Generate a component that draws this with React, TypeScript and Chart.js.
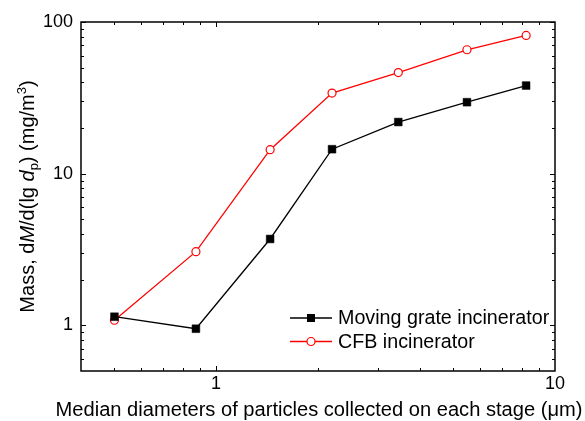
import React, { useEffect, useRef } from "react";
import { Chart, registerables } from "chart.js";

Chart.register(...registerables);

const FONT = '"Liberation Sans", Arial, Helvetica, sans-serif';

// Data
const diameters = [0.502, 0.873, 1.445, 2.2, 3.45, 5.5, 8.22];
const movingGrate = [1.14, 0.95, 3.71, 14.5, 21.9, 29.6, 38.1];
const cfb = [1.08, 3.06, 14.4, 34.0, 46.4, 65.6, 81.6];
const seriesNames = ["Moving grate incinerator", "CFB incinerator"];
const xTitle = "Median diameters of particles collected on each stage (\u03bcm)";

// Axis ticks
const xMajor = [1, 10];
const xMinor = [0.5, 0.6, 0.7, 0.8, 0.9, 2, 3, 4, 5, 6, 7, 8, 9];
const yMajor = [1, 10, 100];
const yMinor = [0.6, 0.7, 0.8, 0.9, 2, 3, 4, 5, 6, 7, 8, 9, 20, 30, 40, 50, 60, 70, 80, 90];

const isMajor = (v: number, list: number[]) => list.some((m) => Math.abs(v - m) / m < 1e-6);

const framePlugin = {
  id: "frame",
  afterDraw(chart: any) {
    const { ctx, chartArea, scales } = chart;
    const { left, right, top, bottom } = chartArea;
    ctx.save();
    ctx.strokeStyle = "#000";
    ctx.lineWidth = 1;
    const tick = (vals: number[], len: number) => {
      vals.forEach((v) => {
        const px = Math.round(scales.x.getPixelForValue(v)) + 0.5;
        if (v > 0.45 && v < 10) {
          ctx.beginPath();
          ctx.moveTo(px, bottom);
          ctx.lineTo(px, bottom - len);
          ctx.moveTo(px, top);
          ctx.lineTo(px, top + len);
          ctx.stroke();
        }
      });
    };
    const ytick = (vals: number[], len: number) => {
      vals.forEach((v) => {
        const py = Math.round(scales.y.getPixelForValue(v)) + 0.5;
        ctx.beginPath();
        ctx.moveTo(left, py);
        ctx.lineTo(left + len, py);
        ctx.moveTo(right, py);
        ctx.lineTo(right - len, py);
        ctx.stroke();
      });
    };
    tick(xMajor, 5);
    tick(xMinor, 3);
    ytick(yMajor, 5);
    ytick(yMinor, 3);
    ctx.lineWidth = 1.5;
    ctx.strokeRect(left, top, right - left, bottom - top);
    ctx.restore();
  },
};

const titlesPlugin = {
  id: "titles",
  afterDraw(chart: any) {
    const { ctx, chartArea } = chart;
    // x title
    ctx.save();
    ctx.fillStyle = "#000";
    ctx.textBaseline = "alphabetic";
    ctx.textAlign = "center";
    let fs = 20;
    ctx.font = `${fs}px ${FONT}`;
    const w = ctx.measureText(xTitle).width;
    fs = Math.max(16, Math.min(24, (fs * 527) / w));
    ctx.font = `${fs}px ${FONT}`;
    ctx.fillText(xTitle, 319, 416);
    ctx.restore();

    // y title (rich text)
    const size = 20;
    const small = 13;
    const segs = [
      { t: "Mass, d", f: `${size}px ${FONT}`, dy: 0 },
      { t: "M", f: `italic ${size}px ${FONT}`, dy: 0 },
      { t: "/d(lg ", f: `${size}px ${FONT}`, dy: 0 },
      { t: "d", f: `italic ${size}px ${FONT}`, dy: 0 },
      { t: "p", f: `${small}px ${FONT}`, dy: 4 },
      { t: ") (mg/m", f: `${size}px ${FONT}`, dy: 0 },
      { t: "3", f: `${small}px ${FONT}`, dy: -8 },
      { t: ")", f: `${size}px ${FONT}`, dy: 0 },
    ];
    ctx.save();
    let total = 0;
    const widths = segs.map((s) => {
      ctx.font = s.f;
      const ww = ctx.measureText(s.t).width;
      total += ww;
      return ww;
    });
    const cy = (chartArea.top + chartArea.bottom) / 2;
    ctx.translate(34, cy);
    ctx.rotate(-Math.PI / 2);
    ctx.fillStyle = "#000";
    ctx.textBaseline = "alphabetic";
    ctx.textAlign = "left";
    let x = -total / 2;
    segs.forEach((s, i) => {
      ctx.font = s.f;
      ctx.fillText(s.t, x, s.dy);
      x += widths[i];
    });
    ctx.restore();
  },
};

const legendPlugin = {
  id: "customLegend",
  afterDraw(chart: any) {
    const { ctx } = chart;
    const rows = [
      { y: 318, color: "#000", square: true },
      { y: 341.5, color: "#ff0000", square: false },
    ];
    ctx.save();
    rows.forEach((r, i) => {
      ctx.strokeStyle = r.color;
      ctx.lineWidth = 1.3;
      ctx.beginPath();
      ctx.moveTo(290, r.y);
      ctx.lineTo(332, r.y);
      ctx.stroke();
      if (r.square) {
        ctx.fillStyle = "#000";
        ctx.fillRect(307, r.y - 4, 8, 8);
      } else {
        ctx.fillStyle = "#fff";
        ctx.lineWidth = 1.2;
        ctx.beginPath();
        ctx.arc(311, r.y, 4, 0, Math.PI * 2);
        ctx.fill();
        ctx.stroke();
      }
      ctx.fillStyle = "#000";
      ctx.font = `19.7px ${FONT}`;
      ctx.textBaseline = "middle";
      ctx.textAlign = "left";
      ctx.fillText(seriesNames[i], 338, r.y + 1);
    });
    ctx.restore();
  },
};

export default function App() {
  const ref = useRef<HTMLCanvasElement | null>(null);
  useEffect(() => {
    document.body.style.margin = "0";
    const canvas = ref.current;
    if (!canvas) return;
    const chart = new Chart(canvas, {
      type: "line",
      data: {
        datasets: [
          {
            label: seriesNames[0],
            data: diameters.map((d, i) => ({ x: d, y: movingGrate[i] })),
            borderColor: "#000",
            backgroundColor: "#000",
            borderWidth: 1.3,
            pointStyle: "rect",
            pointRadius: 5.5,
            pointBorderWidth: 0.5,
            pointBackgroundColor: "#000",
            pointBorderColor: "#000",
            tension: 0,
          },
          {
            label: seriesNames[1],
            data: diameters.map((d, i) => ({ x: d, y: cfb[i] })),
            borderColor: "#ff0000",
            backgroundColor: "#fff",
            borderWidth: 1.3,
            pointStyle: "circle",
            pointRadius: 4,
            pointBorderWidth: 1.2,
            pointBackgroundColor: "#fff",
            pointBorderColor: "#ff0000",
            tension: 0,
          },
        ],
      },
      options: {
        animation: false,
        responsive: false,
        events: [],
        layout: { padding: { top: 22, right: 30, left: 0, bottom: 0 } },
        plugins: { legend: { display: false }, tooltip: { enabled: false }, title: { display: false } },
        scales: {
          x: {
            type: "logarithmic",
            min: 0.4,
            max: 10,
            grid: { display: false, drawTicks: false },
            border: { display: false },
            ticks: {
              autoSkip: false,
              maxRotation: 0,
              padding: 2,
              color: "#000",
              font: { family: FONT, size: 18 },
              callback: (v: any) => (isMajor(Number(v), xMajor) ? String(Number(v)) : ""),
            },
            title: { display: false },
            afterFit: (s: any) => {
              s.height = 50;
            },
          },
          y: {
            type: "logarithmic",
            min: 0.5,
            max: 100,
            grid: { display: false, drawTicks: false },
            border: { display: false },
            ticks: {
              autoSkip: false,
              padding: 8,
              color: "#000",
              font: { family: FONT, size: 18 },
              callback: (v: any) => (isMajor(Number(v), yMajor) ? String(Number(v)) : ""),
            },
            afterFit: (s: any) => {
              s.width = 81;
            },
          },
        },
      },
      plugins: [framePlugin, titlesPlugin, legendPlugin],
    } as any);
    return () => chart.destroy();
  }, []);
  return (
    <div style={{ position: "absolute", left: 0, top: 0, width: 585, height: 421, background: "#fff" }}>
      <canvas ref={ref} width={585} height={421} style={{ display: "block" }} />
    </div>
  );
}
